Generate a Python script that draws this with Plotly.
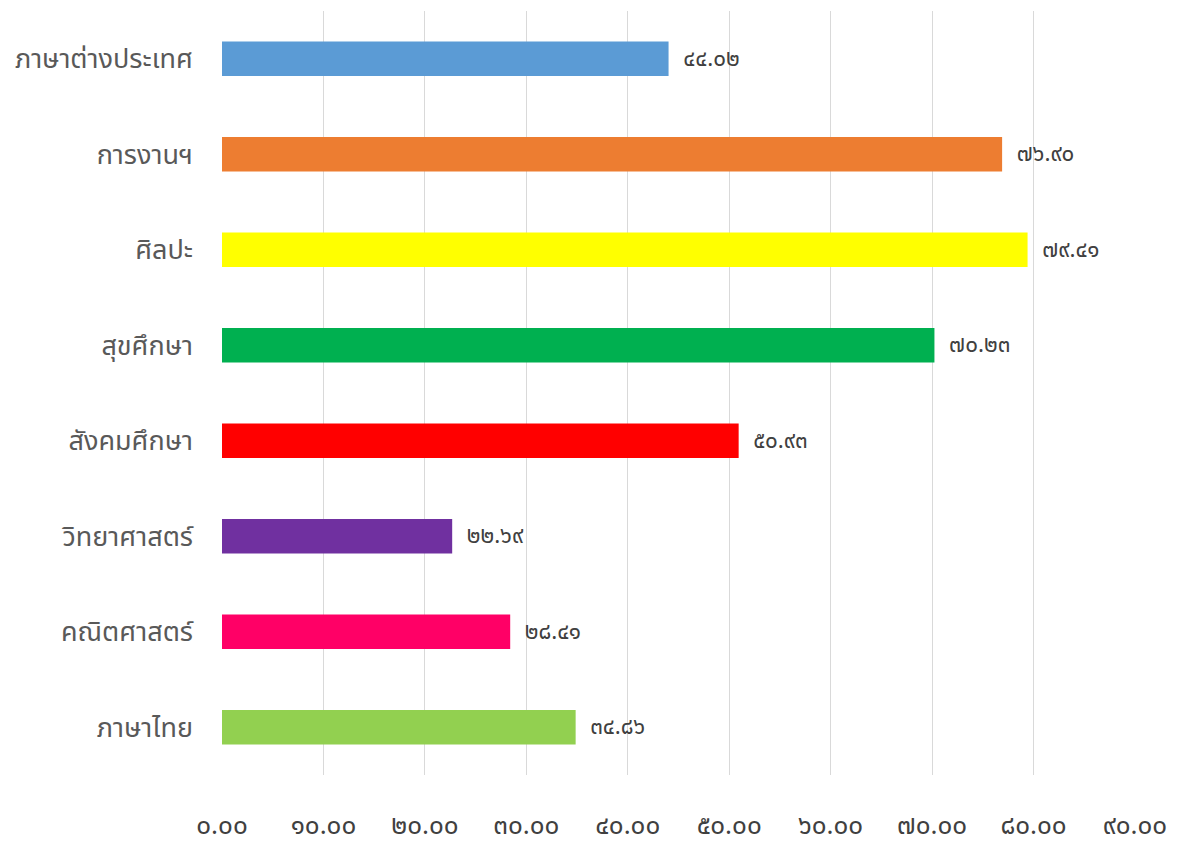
import plotly.graph_objects as go

categories = ["ภาษาต่างประเทศ", "การงานฯ", "ศิลปะ", "สุขศึกษา", "สังคมศึกษา",
              "วิทยาศาสตร์", "คณิตศาสตร์", "ภาษาไทย"]
values = [44.02, 76.90, 79.41, 70.23, 50.93, 22.69, 28.41, 34.86]
colors = ["#5B9BD5", "#ED7D31", "#FFFF00", "#00B050", "#FF0000",
          "#7030A0", "#FF0066", "#92D050"]
tick_values = [0, 10, 20, 30, 40, 50, 60, 70, 80, 90]

TH = str.maketrans("0123456789", "๐๑๒๓๔๕๖๗๘๙")

def thai(v):
    return f"{v:.2f}".translate(TH)

font_family = "Noto Sans Thai, Noto Sans, Tahoma, sans-serif"

fig = go.Figure(go.Bar(
    x=values,
    y=categories,
    orientation="h",
    marker=dict(color=colors, line=dict(width=0)),
    width=0.36,
    text=["  " + thai(v) for v in values],
    textposition="outside",
    textfont=dict(size=28, color="#404040", family=font_family),
    cliponaxis=False,
))

fig.update_layout(
    width=1187, height=847,
    margin=dict(l=214, r=60, t=3, b=80),
    plot_bgcolor="white", paper_bgcolor="white",
    showlegend=False,
    font=dict(family=font_family, color="#595959"),
    xaxis=dict(
        range=[0, 90],
        tickvals=tick_values,
        ticktext=[thai(v) for v in tick_values],
        showgrid=True, gridcolor="#D9D9D9", gridwidth=1,
        zeroline=False, showline=False,
        tickfont=dict(size=26, color="#404040"),
        ticks="", ticklabelstandoff=32,
        automargin=False,
    ),
    yaxis=dict(
        categoryorder="array",
        categoryarray=categories[::-1],
        showgrid=False, zeroline=False, showline=False,
        tickfont=dict(size=27, color="#595959"),
        ticks="", ticklabelstandoff=28,
        automargin=False,
    ),
)

fig.write_html("out.html")
